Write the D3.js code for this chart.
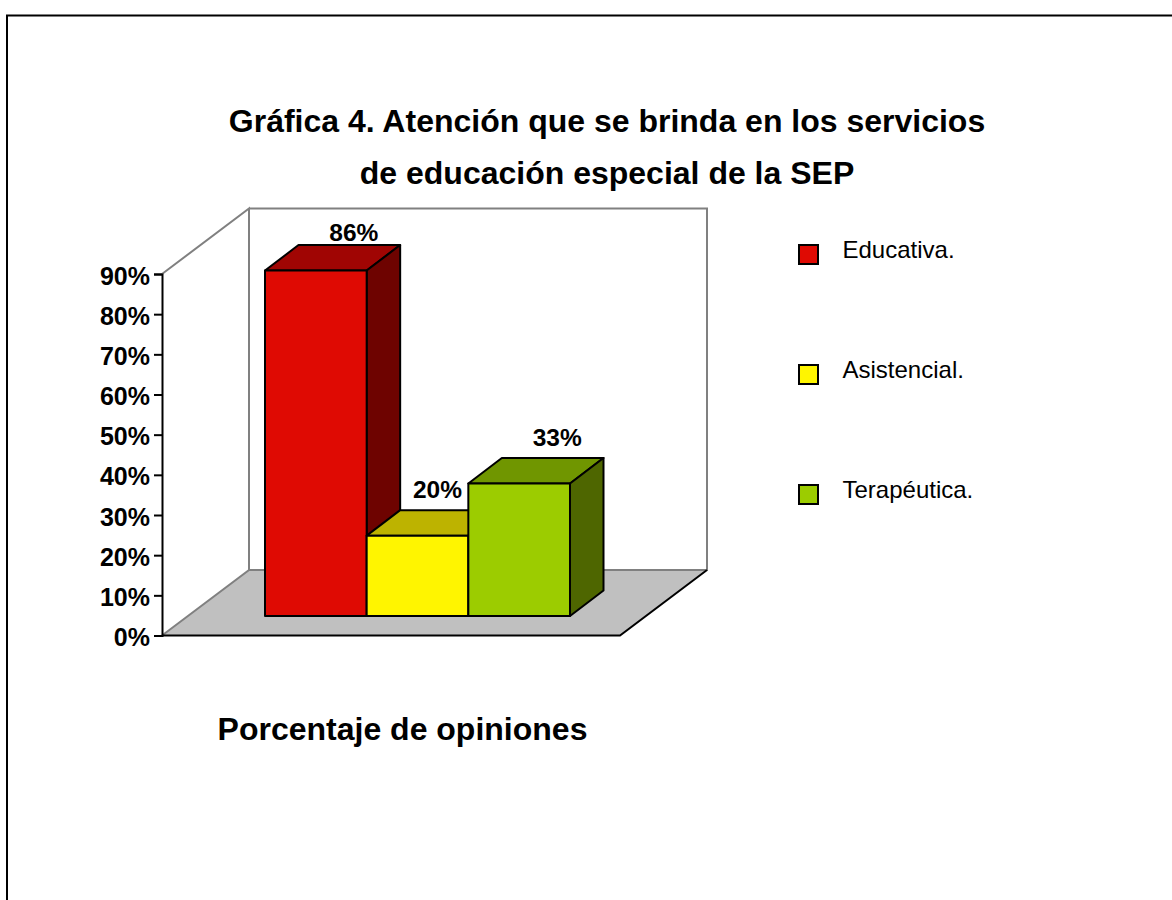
<!DOCTYPE html>
<html><head><meta charset="utf-8">
<script src="https://cdn.jsdelivr.net/npm/d3@7/dist/d3.min.js"></script>
<style>html,body{margin:0;padding:0;background:#fff}svg{display:block}text{font-family:"Liberation Sans",Arial,sans-serif;fill:#000}</style>
</head><body><svg id="c" width="1172" height="900"></svg>
<script>
const categories = ["Educativa.", "Asistencial.", "Terapéutica."];
const values = [86, 20, 33];
const valueLabels = ["86%", "20%", "33%"];
const frontColors = ["#DF0A03", "#FFF500", "#9CCC00"];
const topColors = ["#A00503", "#BDB300", "#709600"];
const sideColors = ["#6E0300", "#807A00", "#4E6600"];
const tickValues = [0, 10, 20, 30, 40, 50, 60, 70, 80, 90];
const titleLines = ["Gráfica 4. Atención que se brinda en los servicios", "de educación especial de la SEP"];
const axisTitle = "Porcentaje de opiniones";

const svg = d3.select("#c");
const y = d3.scaleLinear().domain([0, 90]).range([635.5, 274]);
const x = d3.scaleBand().domain(categories).range([265, 570]);
const h = y(0) - y(1);                 // px per percent
const wall = {dx: 87, dy: -65.5, right: 620};
const bar = {dx: 33.5, dy: -25.5, base: 616};
const poly = p => p.map(d => d.join(",")).join(" ");

// page frame
svg.append("path").attr("d", "M7,900V15.5H1172").attr("fill", "none").attr("stroke", "#000").attr("stroke-width", 2);

// titles
svg.selectAll("text.title").data(titleLines).join("text").attr("class", "title")
  .attr("x", 607).attr("y", (d, i) => 132 + i * 52).attr("text-anchor", "middle")
  .attr("font-size", 32).attr("font-weight", "bold").text(d => d);
svg.append("text").attr("x", 402.5).attr("y", 740).attr("text-anchor", "middle")
  .attr("font-size", 32).attr("font-weight", "bold").text(axisTitle);

// floor and walls
const x0 = 162, x1 = wall.right, y0 = y(0), y9 = y(90);
svg.append("polygon").attr("points", poly([[x0,y0],[x1,y0],[x1+wall.dx,y0+wall.dy],[x0+wall.dx,y0+wall.dy]])).attr("fill", "#C0C0C0");
svg.append("path").attr("fill", "none").attr("stroke", "#808080").attr("stroke-width", 2)
  .attr("d", `M${x0},${y9}L${x0+wall.dx},${y9+wall.dy}V${y0+wall.dy}L${x0},${y0}M${x0+wall.dx},${y9+wall.dy}H${x1+wall.dx}V${y0+wall.dy}H${x0+wall.dx}`);
svg.append("path").attr("fill", "none").attr("stroke", "#000").attr("stroke-width", 2)
  .attr("d", `M${x0},${y0}H${x1}L${x1+wall.dx},${y0+wall.dy}`);

// y axis
const axis = svg.append("g").attr("transform", `translate(${x0},0)`)
  .call(d3.axisLeft(y).tickValues(tickValues).tickFormat(d => d + "%").tickSize(8).tickPadding(4));
axis.selectAll("path,line").attr("stroke", "#000").attr("stroke-width", 2);
axis.selectAll("text").attr("font-size", 25).attr("font-weight", "bold").attr("dy", "0.4em")
  .style("font-family", '"Liberation Sans",Arial,sans-serif').attr("fill", "#000");

// bars
const gBars = svg.selectAll("g.bar").data(categories).join("g").attr("class", "bar");
gBars.each(function (c, i) {
  const g = d3.select(this), l = x(c), r = l + x.bandwidth(), b = bar.base, t = b - values[i] * h;
  const st = {stroke: "#000", "stroke-width": 2, "stroke-linejoin": "round"};
  const add = (pts, fill) => { const e = g.append("polygon").attr("points", poly(pts)).attr("fill", fill);
    Object.entries(st).forEach(([k, v]) => e.attr(k, v)); };
  add([[l,t],[r,t],[r+bar.dx,t+bar.dy],[l+bar.dx,t+bar.dy]], topColors[i]);
  add([[r,t],[r+bar.dx,t+bar.dy],[r+bar.dx,b+bar.dy],[r,b]], sideColors[i]);
  add([[l,t],[r,t],[r,b],[l,b]], frontColors[i]);
});

// value labels
const labelShift = [38, 20, 38];
const labelGap = [4, 12, 12];
svg.selectAll("text.val").data(categories).join("text").attr("class", "val")
  .attr("x", (c, i) => x(c) + x.bandwidth() / 2 + labelShift[i])
  .attr("y", (c, i) => bar.base - values[i] * h + bar.dy - labelGap[i])
  .attr("text-anchor", "middle").attr("font-size", 24.5).attr("font-weight", "bold")
  .text((c, i) => valueLabels[i]);

// legend
const ly = d3.scalePoint().domain(categories).range([254.5, 494.5]);
const lg = svg.selectAll("g.leg").data(categories).join("g").attr("class", "leg")
  .attr("transform", c => `translate(0,${ly(c)})`);
lg.append("rect").attr("x", 799).attr("y", -9.5).attr("width", 19).attr("height", 19)
  .attr("fill", (c, i) => frontColors[i]).attr("stroke", "#000").attr("stroke-width", 2);
lg.append("text").attr("x", 842.5).attr("y", 3.5).attr("font-size", 24).text(c => c);
</script></body></html>
